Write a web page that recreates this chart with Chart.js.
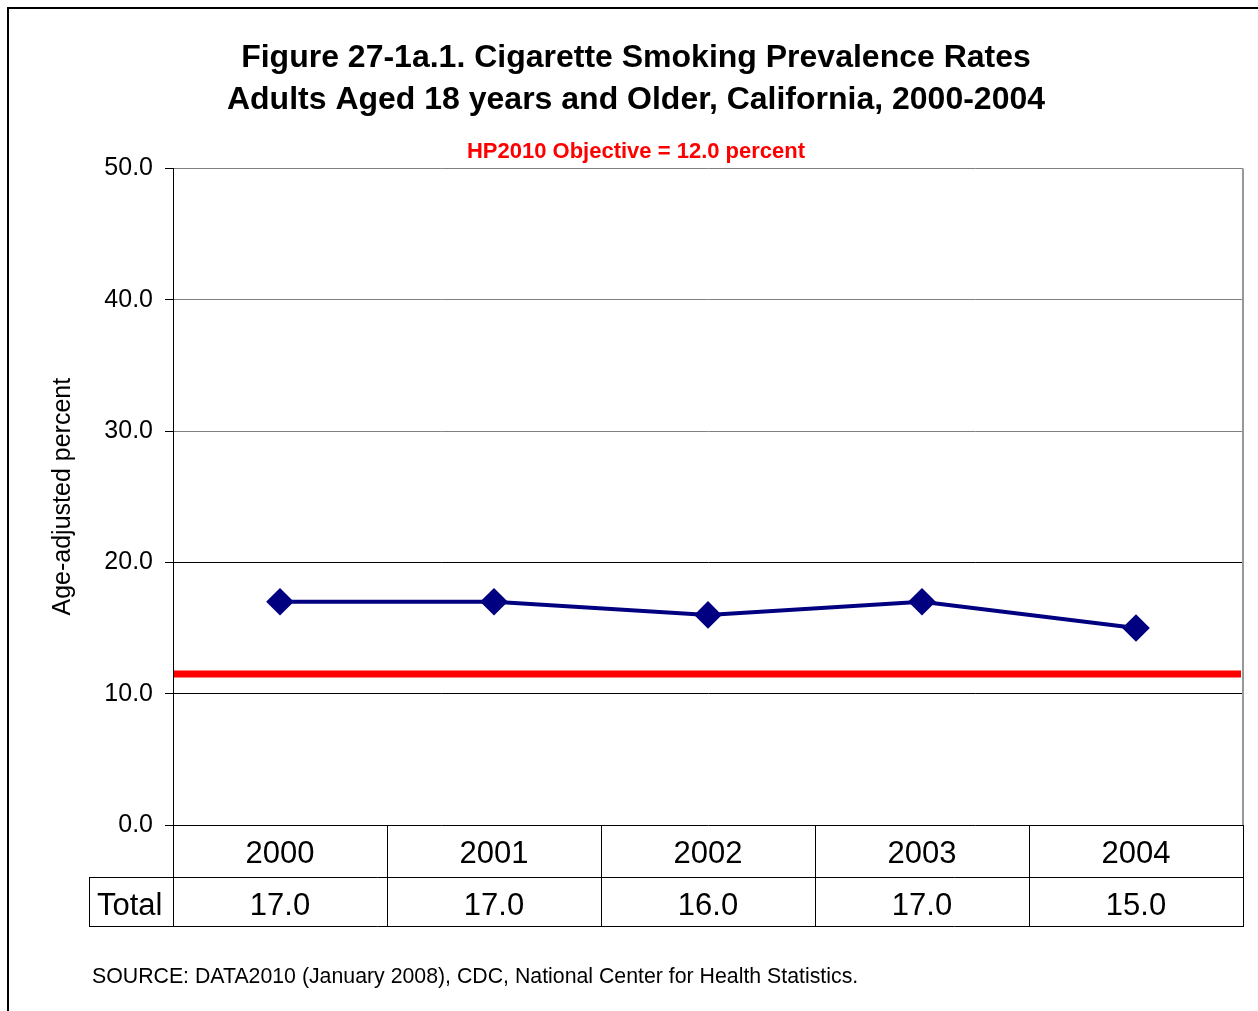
<!DOCTYPE html>
<html>
<head>
<meta charset="utf-8">
<script src="https://cdn.jsdelivr.net/npm/chart.js@4/dist/chart.umd.min.js"></script>
<style>
  html, body { margin: 0; padding: 0; background: #fff; }
  canvas { display: block; }
</style>
</head>
<body>
<canvas id="smoking_chart" width="1258" height="1011"></canvas>
<script>
const years = ["2000", "2001", "2002", "2003", "2004"];
const totalValues = [17.0, 17.0, 16.0, 17.0, 15.0];
const rowLabel = "Total";
const objective = 11.5;
const yMin = 0;
const yMax = 50;
const yStep = 10;

const font = "'Liberation Sans', Arial, sans-serif";

// red objective line + right border of the plot
const objectiveLine = {
  id: "objectiveLine",
  beforeDatasetsDraw(chart) {
    const { ctx, chartArea, scales } = chart;
    const y = scales.y.getPixelForValue(objective);
    ctx.save();
    ctx.strokeStyle = "#ff0000";
    ctx.lineWidth = 7;
    ctx.beginPath();
    ctx.moveTo(chartArea.left + 1, y);
    ctx.lineTo(chartArea.right - 2, y);
    ctx.stroke();
    ctx.strokeStyle = "#999999";
    ctx.lineWidth = 2;
    ctx.beginPath();
    ctx.moveTo(chartArea.right, chartArea.top);
    ctx.lineTo(chartArea.right, chartArea.bottom);
    ctx.stroke();
    ctx.restore();
  },
};

// data table under the plot, source note and outer frame
const dataTable = {
  id: "dataTable",
  afterDraw(chart) {
    const { ctx, chartArea, scales } = chart;
    const x = scales.x;
    const top = chartArea.bottom;
    const mid = top + 52;
    const bottom = x.bottom;
    const left = chartArea.left;
    const right = chartArea.right;

    const edges = [left];
    for (let i = 0; i < years.length - 1; i++) {
      edges.push((x.getPixelForValue(i) + x.getPixelForValue(i + 1)) / 2);
    }
    edges.push(right);

    ctx.save();
    ctx.strokeStyle = "#000";
    ctx.lineWidth = 1;
    ctx.beginPath();
    edges.forEach((e) => {
      ctx.moveTo(Math.round(e) + 0.5, top);
      ctx.lineTo(Math.round(e) + 0.5, bottom);
    });
    ctx.moveTo(89, mid + 0.5);
    ctx.lineTo(right, mid + 0.5);
    ctx.moveTo(89, bottom - 0.5);
    ctx.lineTo(right, bottom - 0.5);
    ctx.moveTo(89.5, mid);
    ctx.lineTo(89.5, bottom);
    ctx.stroke();

    ctx.fillStyle = "#000";
    ctx.font = "31px " + font;
    ctx.textBaseline = "middle";
    ctx.textAlign = "center";
    years.forEach((yr, i) => {
      const cx = x.getPixelForValue(i);
      ctx.fillText(yr, cx, (top + mid) / 2 + 3);
      ctx.fillText(totalValues[i].toFixed(1), cx, (mid + bottom) / 2 + 4);
    });
    ctx.textAlign = "left";
    ctx.fillText(rowLabel, 97, (mid + bottom) / 2 + 4);

    ctx.font = "21.3px " + font;
    ctx.fillText("SOURCE: DATA2010 (January 2008), CDC, National Center for Health Statistics.", 92, 977);

    ctx.lineWidth = 2;
    ctx.strokeRect(8, 8, 1400, 1200);
    ctx.restore();
  },
};

const ctx = document.querySelector("#smoking_chart");

new Chart(ctx, {
  type: "line",
  data: {
    labels: years,
    datasets: [
      {
        label: rowLabel,
        data: totalValues,
        borderColor: "#000080",
        backgroundColor: "#000080",
        borderWidth: 4,
        pointStyle: "rectRot",
        pointRadius: 11,
        pointHoverRadius: 11,
        fill: false,
        tension: 0,
      },
    ],
  },
  options: {
    responsive: false,
    animation: false,
    events: [],
    layout: { padding: { left: 28, right: 14, top: 0, bottom: 84 } },
    plugins: {
      legend: { display: false },
      tooltip: { enabled: false },
      title: {
        display: true,
        text: [
          "Figure 27-1a.1. Cigarette Smoking Prevalence Rates",
          "Adults Aged 18 years and Older, California, 2000-2004",
        ],
        color: "#000",
        font: { family: font, size: 32, weight: "bold", lineHeight: 1.3125 },
        padding: { top: 37, bottom: 0 },
      },
      subtitle: {
        display: true,
        text: "HP2010 Objective = 12.0 percent",
        color: "#ff0000",
        font: { family: font, size: 22, weight: "bold", lineHeight: 1.2 },
        padding: { top: 18, bottom: 3 },
      },
    },
    scales: {
      x: {
        offset: true,
        grid: { display: false },
        border: { display: false },
        ticks: { display: false },
        afterFit(scale) {
          scale.height = 102;
        },
      },
      y: {
        min: yMin,
        max: yMax,
        ticks: {
          stepSize: yStep,
          color: "#000",
          padding: 12,
          font: { family: font, size: 25 },
          callback: (v) => v.toFixed(1),
        },
        grid: {
          color: (c) => (c.tick && c.tick.value >= 30 ? "#808080" : "#000"),
          tickColor: "#000",
          tickLength: 8,
        },
        border: { color: "#000", width: 1 },
        title: {
          display: true,
          text: "Age-adjusted percent",
          color: "#000",
          font: { family: font, size: 25 },
          padding: { top: 20, bottom: 0 },
        },
        afterFit(scale) {
          scale.width = 145;
        },
      },
    },
  },
  plugins: [objectiveLine, dataTable],
});
</script>
</body>
</html>
